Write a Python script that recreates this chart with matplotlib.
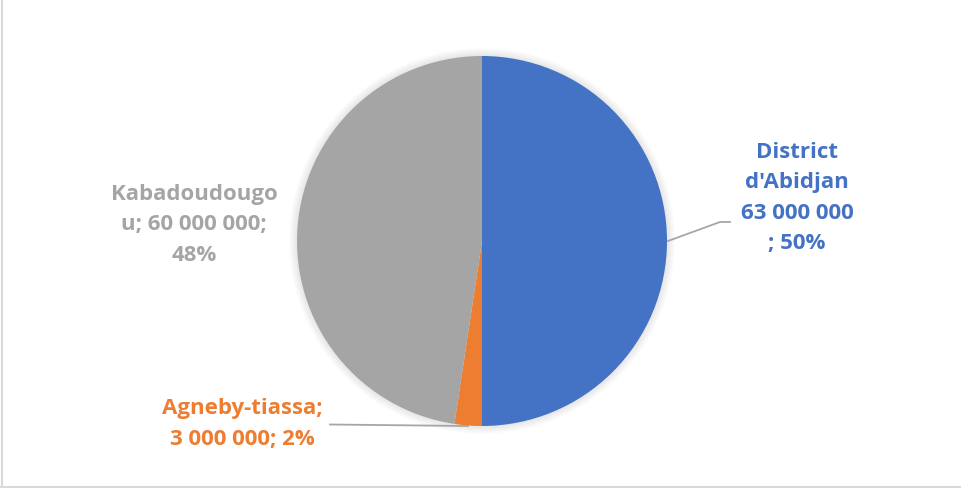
import matplotlib.pyplot as plt
from matplotlib.patches import Circle
from matplotlib.lines import Line2D

# données
regions = ["District d'Abidjan", "Agneby-tiassa", "Kabadoudougou"]
valeurs = [63000000, 3000000, 60000000]
couleurs = ["#4472C4", "#ED7D31", "#A5A5A5"]

W, H = 961, 489
total = sum(valeurs)


def fmt(v):
    return f"{v:,}".replace(",", " ")


pct = [f"{round(100 * v / total)}%" for v in valeurs]

# étiquettes coupées comme dans Excel
etiquettes = [
    f"District\nd'Abidjan\n{fmt(valeurs[0])}\n; {pct[0]}",
    f"Agneby-tiassa;\n{fmt(valeurs[1])}; {pct[1]}",
    f"Kabadoudougo\nu; {fmt(valeurs[2])};\n{pct[2]}",
]
pos_etiq = [(797, 198), (242, 424), (194, 225)]

fig = plt.figure(figsize=(W / 100, H / 100), dpi=100)
ax = fig.add_axes([0, 0, 1, 1])

cx, cy, r = 482, H - 242, 185

# ombre douce
for i in range(8):
    ax.add_patch(Circle((cx, cy), r + 1 + i, color='black', alpha=0.012, lw=0, zorder=0))

ax.pie(valeurs, colors=couleurs, startangle=90, counterclock=False,
       center=(cx, cy), radius=r, frame=True,
       wedgeprops=dict(linewidth=0))
ax.set_xlim(0, W)
ax.set_ylim(0, H)
ax.set_aspect('equal')
ax.axis('off')

# lignes de rappel
ax.plot([668, 720, 730], [H - 242, H - 223, H - 223], color='#A6A6A6', lw=1.3)
ax.plot([330, 468], [H - 425.5, H - 427], color='#A6A6A6', lw=1.3)

for txt, (x, y), c in zip(etiquettes, pos_etiq, couleurs):
    ax.text(x, H - y, txt, ha='center', va='center', color=c,
            fontsize=16, fontweight='bold', family='Open Sans', linespacing=1.6)

# cadre
fig.add_artist(Line2D([1.5 / W, 1.5 / W], [0, 1], color='#D9D9D9', lw=1.5))
fig.add_artist(Line2D([0, 1], [1.5 / H, 1.5 / H], color='#D9D9D9', lw=1.5))

fig.savefig('out.png', dpi=100)
